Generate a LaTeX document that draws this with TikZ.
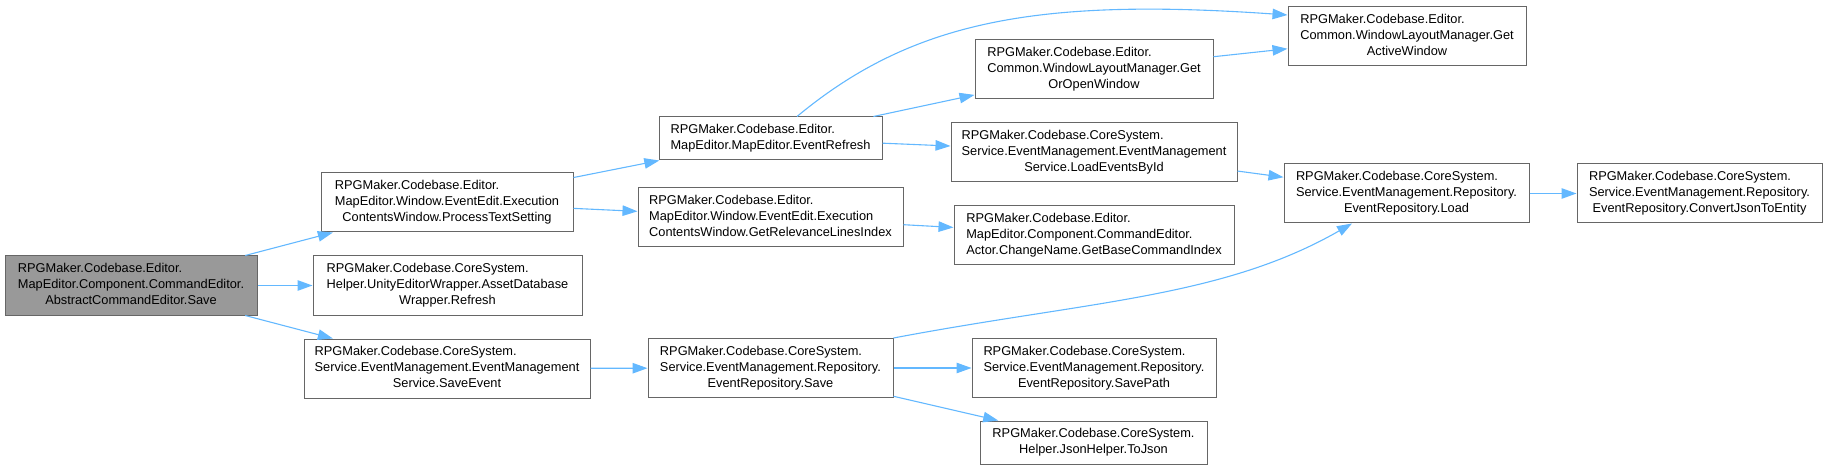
\documentclass[tikz,border=0pt]{standalone}
\usepackage{fontspec}
\setmainfont{Liberation Sans}
\usepackage{tikz}
\usetikzlibrary{arrows.meta}
\newcommand*{\boxH}{59}
\newcommand*{\boxh}{43}
\definecolor{Edge}{RGB}{99,184,255}
\definecolor{Frame}{RGB}{102,102,102}
\definecolor{Root}{RGB}{153,153,153}
\newcommand*{\lastrow}[1]{\multicolumn{1}{@{}c@{}}{#1}}
\newcommand*{\fnthree}[3]{\begin{tabular}{@{}l@{}}#1\\#2\\\lastrow{#3}\end{tabular}}
\newcommand*{\fntwo}[2]{\begin{tabular}{@{}l@{}}#1\\\lastrow{#2}\end{tabular}}

\begin{document}
\begin{tikzpicture}[x=1pt,y=-1pt,
	fn/.style={draw=Frame,fill=white,line width=1pt,inner sep=0pt,minimum height=\boxH,font=\fontsize{12.8}{16}\selectfont},
	fnroot/.style={fn,fill=Root},
	call/.style={draw=Edge,line width=1.1pt,-{Triangle[length=15pt,width=10.5pt]}}]

\useasboundingbox (0,0) rectangle (1827,470);

% column 0
\node[fnroot,minimum width=252] (save) at (131,285.5) {\fnthree{RPGMaker.Codebase.Editor.}{MapEditor.Component.CommandEditor.}{AbstractCommandEditor.Save}};

% column 1
\node[fn,minimum width=252] (pts) at (447,202.5) {\fnthree{RPGMaker.Codebase.Editor.}{MapEditor.Window.EventEdit.Execution}{ContentsWindow.ProcessTextSetting}};
\node[fn,minimum width=269] (adw) at (447.5,285.5) {\fnthree{RPGMaker.Codebase.CoreSystem.}{Helper.UnityEditorWrapper.AssetDatabase}{Wrapper.Refresh}};
\node[fn,minimum width=286] (sev) at (447,368.5) {\fnthree{RPGMaker.Codebase.CoreSystem.}{Service.EventManagement.EventManagement}{Service.SaveEvent}};

% column 2
\node[fn,minimum width=223,minimum height=\boxh] (er) at (770.5,138.5) {\fntwo{RPGMaker.Codebase.Editor.}{MapEditor.MapEditor.EventRefresh}};
\node[fn,minimum width=265] (grl) at (770.5,217.5) {\fnthree{RPGMaker.Codebase.Editor.}{MapEditor.Window.EventEdit.Execution}{ContentsWindow.GetRelevanceLinesIndex}};
\node[fn,minimum width=245] (rsave) at (770.5,368) {\fnthree{RPGMaker.Codebase.CoreSystem.}{Service.EventManagement.Repository.}{EventRepository.Save}};

% column 3
\node[fn,minimum width=238] (goow) at (1094,69.5) {\fnthree{RPGMaker.Codebase.Editor.}{Common.WindowLayoutManager.Get}{OrOpenWindow}};
\node[fn,minimum width=286] (lebi) at (1094,152) {\fnthree{RPGMaker.Codebase.CoreSystem.}{Service.EventManagement.EventManagement}{Service.LoadEventsById}};
\node[fn,minimum width=280] (gbci) at (1094,235) {\fnthree{RPGMaker.Codebase.Editor.}{MapEditor.Component.CommandEditor.}{Actor.ChangeName.GetBaseCommandIndex}};
\node[fn,minimum width=244] (spath) at (1094,368) {\fnthree{RPGMaker.Codebase.CoreSystem.}{Service.EventManagement.Repository.}{EventRepository.SavePath}};
\node[fn,minimum width=227,minimum height=\boxh] (tojson) at (1093.5,442.5) {\fntwo{RPGMaker.Codebase.CoreSystem.}{Helper.JsonHelper.ToJson}};

% column 4 and 5
\node[fn,minimum width=238] (gaw) at (1407,36) {\fnthree{RPGMaker.Codebase.Editor.}{Common.WindowLayoutManager.Get}{ActiveWindow}};
\node[fn,minimum width=245] (load) at (1406.5,193.5) {\fnthree{RPGMaker.Codebase.CoreSystem.}{Service.EventManagement.Repository.}{EventRepository.Load}};
\node[fn,minimum width=245] (cjte) at (1699.5,193.5) {\fnthree{RPGMaker.Codebase.CoreSystem.}{Service.EventManagement.Repository.}{EventRepository.ConvertJsonToEntity}};

% calls
\draw[call] (save) -- (pts);
\draw[call] (save) -- (adw);
\draw[call] (save) -- (sev);
\draw[call] (pts) -- (er);
\draw[call] (pts) -- (grl);
\draw[call] (sev) -- (rsave);
\draw[call] ([xshift=26.5pt]er.north) .. controls (912,21) and (1037,-2.5) .. ([yshift=21pt]gaw.west);
\draw[call] (er) -- (goow);
\draw[call] (er) -- (lebi);
\draw[call] (goow) -- (gaw);
\draw[call] (lebi) -- (load);
\draw[call] (grl) -- (gbci);
\draw[call] (rsave.north east) .. controls (1089,301) and (1222,298) .. ([xshift=-54.5pt]load.south);
\draw[call] (rsave) -- (spath);
\draw[call] (rsave) -- (tojson);
\draw[call] (load) -- (cjte);
\end{tikzpicture}
\end{document}
